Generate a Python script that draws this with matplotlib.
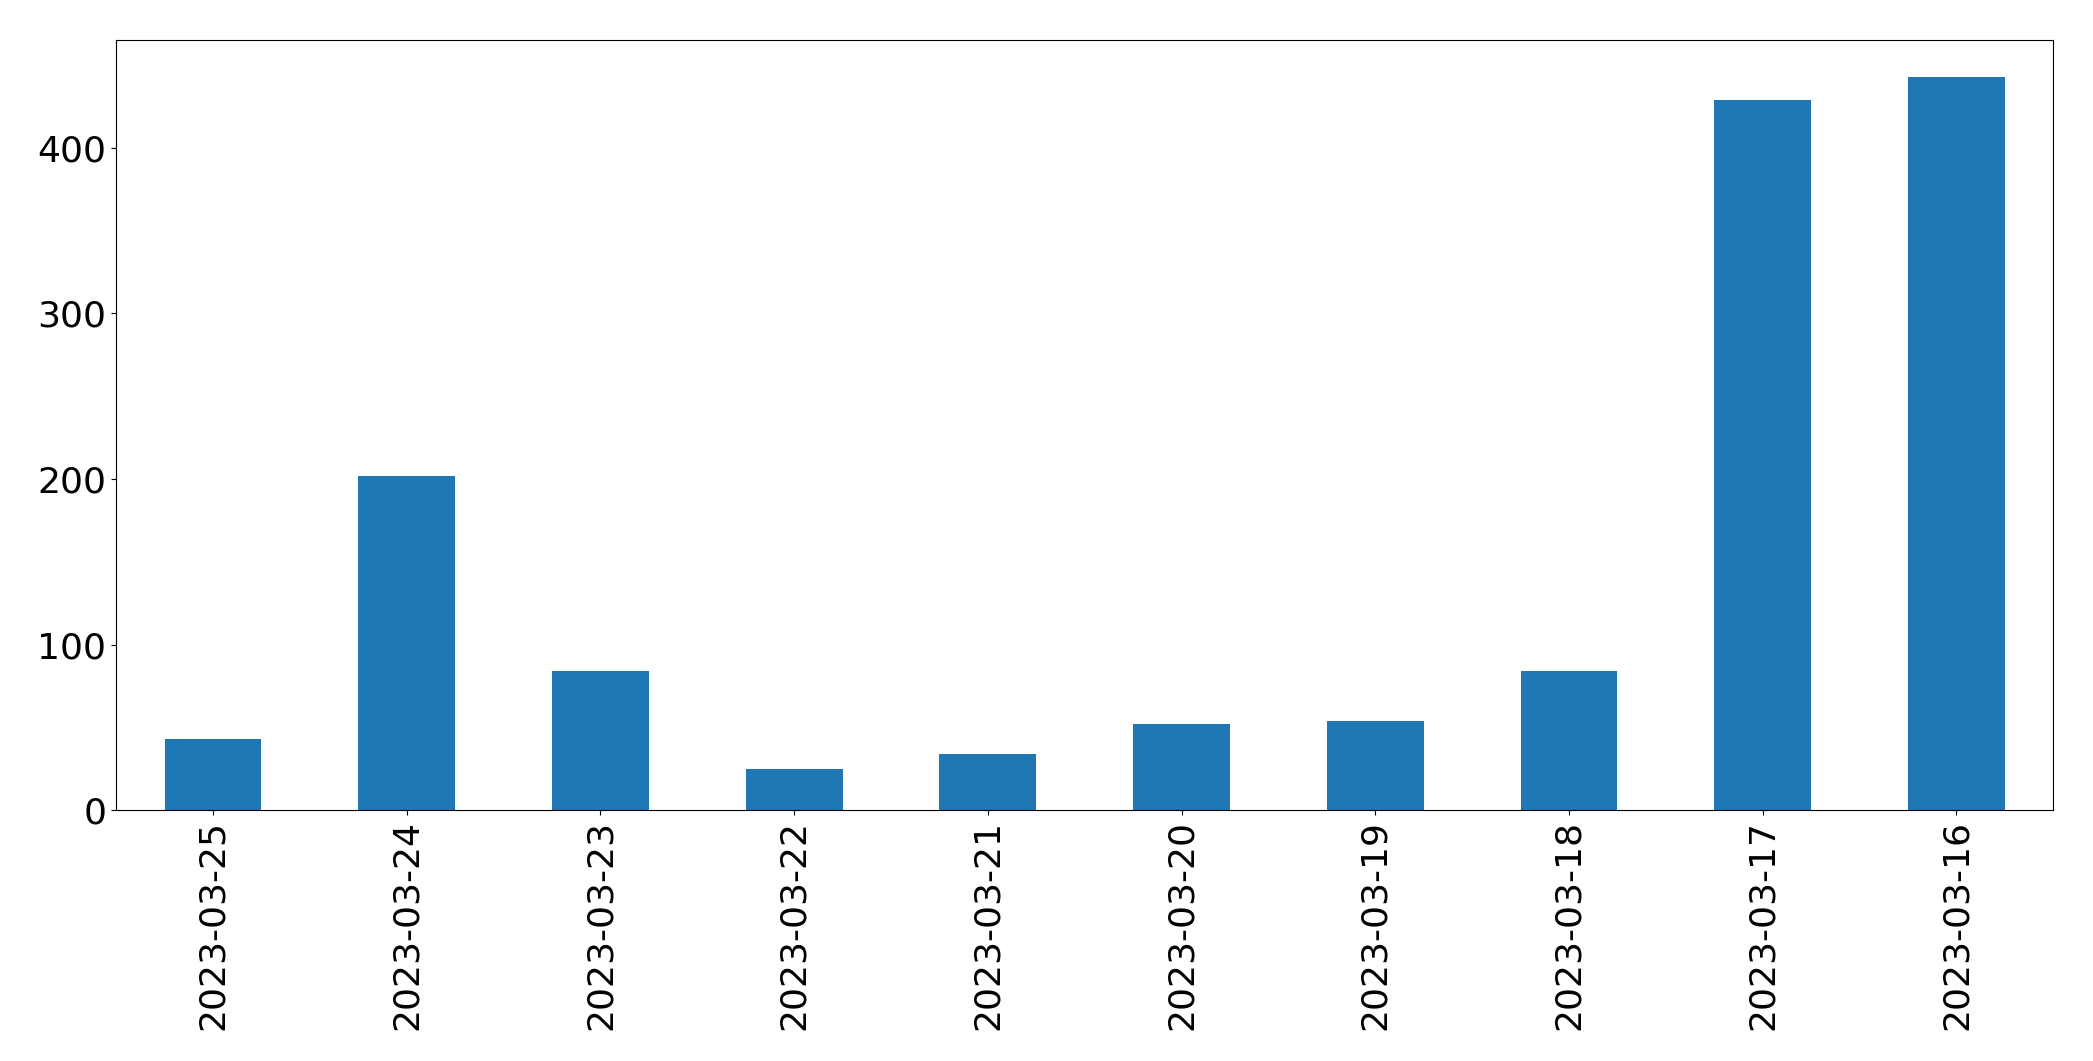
import matplotlib
matplotlib.use("Agg")
import matplotlib.pyplot as plt

dates = ["2023-03-25", "2023-03-24", "2023-03-23", "2023-03-22", "2023-03-21",
         "2023-03-20", "2023-03-19", "2023-03-18", "2023-03-17", "2023-03-16"]
counts = [43, 202, 84, 25, 34, 52, 54, 84, 429, 443]

fig = plt.figure(figsize=(20.93, 10.61), dpi=100)
ax = fig.add_axes([0.0555, 0.2365, 0.9255, 0.7255])
ax.bar(range(len(dates)), counts, width=0.5, color="#1f77b4")
ax.set_xticks(range(len(dates)))
ax.set_xticklabels(dates, rotation=90)
ax.set_xlim(-0.5, len(dates) - 0.5)
ax.set_ylim(0, 465)
ax.set_yticks([0, 100, 200, 300, 400])
ax.tick_params(labelsize=26)
fig.savefig("out.png", dpi=100)
